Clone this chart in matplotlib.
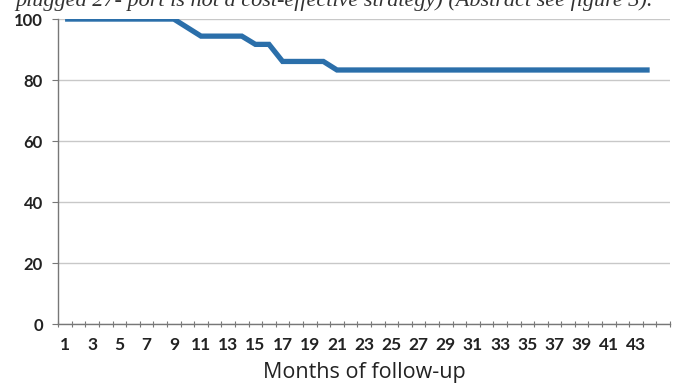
import numpy as np
import matplotlib; matplotlib.use("Agg")
import matplotlib.pyplot as plt

# survival (%) per month of follow-up
months = list(range(1, 45))
survival = [100] * 9 + [97.2] + [94.4] * 4 + [91.7] * 2 + [86.1] * 4 + [83.3] * 24
n_categories = 45
yticks = [0, 20, 40, 60, 80, 100]
xlabels = [str(m) if m % 2 == 1 and m < 45 else "" for m in range(1, n_categories + 1)]
header = "plugged 27- port is not a cost-effective strategy) (Abstract see figure 3)."

fig = plt.figure(figsize=(6.76, 3.89), dpi=100)
ax = fig.add_axes([0.0862, 0.167, 0.905, 0.784])

ax.plot(months, survival, color="#2b6faa", lw=3.8, solid_joinstyle="miter", solid_capstyle="butt", zorder=3)

ax.set_xlim(0.5, n_categories + 0.5)
ax.set_ylim(0, 100)
ax.set_yticks(yticks)
ax.set_yticklabels([str(v) for v in yticks], fontfamily="Lato", fontweight="bold", fontsize=12, color="#222222")
ax.set_xticks(range(1, n_categories + 1))
ax.set_xticklabels(xlabels, fontfamily="Lato", fontweight="bold", fontsize=12.5, color="#222222")
ax.tick_params(axis="x", length=0, pad=9)
ax.set_xticks(np.arange(0.5, n_categories + 1, 1), minor=True)
ax.tick_params(axis="x", which="minor", length=4, direction="inout", color="#777777", width=0.8)
ax.tick_params(axis="y", length=4, color="#777777", width=0.8, pad=7)
ax.grid(axis="y", color="#c8c8c8", lw=1)
ax.set_axisbelow(True)
for s in ["top", "right"]:
    ax.spines[s].set_visible(False)
for s in ["left", "bottom"]:
    ax.spines[s].set_color("#777777")
    ax.spines[s].set_linewidth(1)

ax.set_xlabel("Months of follow-up", fontfamily="Open Sans", fontsize=15.5, color="#222222", labelpad=7)

fig.text(0.022, 1 - 6 / 389, header, fontfamily="Liberation Serif", fontstyle="italic", fontsize=16,
         va="baseline", ha="left", color="#333333")

fig.savefig("out.png", dpi=100)
